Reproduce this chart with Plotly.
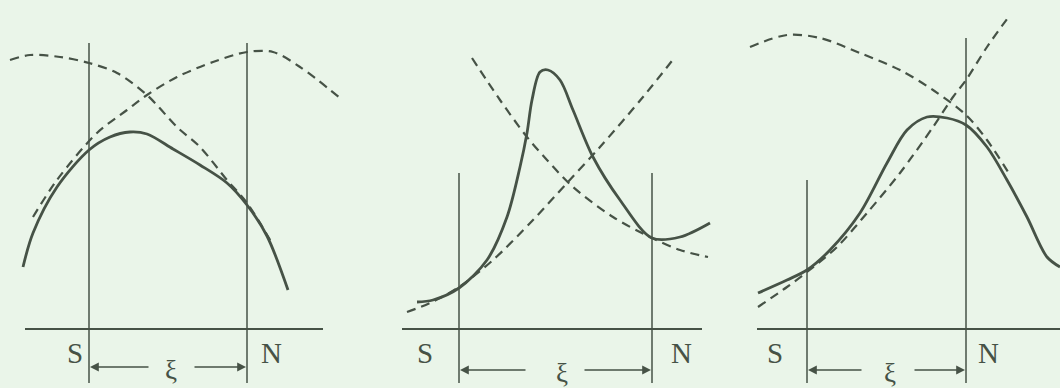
import plotly.graph_objects as go

# Drawing units: x 0..1060 left to right, y 0..388 top to bottom
INK = "#465246"
PAPER = "#eaf5e9"

baseline_y = 329
baseline_x0 = [25, 402, 757]
baseline_x1 = [323, 702, 1060]

s_x = [89, 459, 807]
n_x = [247, 652, 966]
s_top = [43, 173, 180]
n_top = [43, 173, 38]
post_bottom = 383

label_y = 353
s_label_x = [75, 425, 775]
n_label_x = [271, 681, 988]

arrow_y = [367, 370, 370]
xi_x = [171, 562, 890]
left_tail = [150, 527, 863]
right_tail = [193, 583, 913]

# Panel 1
p1_solid_x = [23, 33, 57, 89, 110, 130, 147, 173, 200, 227, 247, 267, 288]
p1_solid_y = [267, 233, 187, 150, 137, 132, 134, 149, 165, 183, 205, 236, 290]
p1_fall_x = [10, 30, 60, 89, 117, 147, 177, 200, 227, 247, 273]
p1_fall_y = [60, 55, 57, 63, 73, 95, 127, 147, 180, 203, 245]
p1_rise_x = [33, 57, 97, 127, 147, 177, 213, 247, 273, 300, 340]
p1_rise_y = [217, 180, 133, 110, 95, 77, 62, 52, 52, 67, 98]

# Panel 2
p2_solid_x = [417, 433, 459, 487, 507, 520, 527, 532, 540, 548, 560, 573, 593, 620, 652, 680, 710]
p2_solid_y = [302, 300, 288, 260, 217, 167, 133, 100, 72, 70, 80, 110, 157, 200, 238, 237, 223]
p2_fall_x = [472, 500, 527, 547, 573, 613, 652, 680, 708]
p2_fall_y = [58, 100, 137, 160, 187, 217, 238, 250, 257]
p2_rise_x = [407, 430, 459, 493, 533, 567, 600, 643, 675]
p2_rise_y = [312, 303, 287, 260, 220, 183, 147, 97, 57]

# Panel 3
p3_solid_x = [758, 787, 807, 830, 860, 887, 907, 927, 947, 966, 987, 1007, 1027, 1047, 1060]
p3_solid_y = [293, 280, 270, 250, 213, 163, 130, 117, 118, 125, 147, 180, 217, 257, 267]
p3_fall_x = [750, 787, 820, 860, 900, 933, 966, 987, 1010]
p3_fall_y = [47, 35, 38, 53, 70, 90, 115, 140, 175]
p3_rise_x = [758, 787, 807, 837, 867, 900, 933, 953, 966, 987, 1010]
p3_rise_y = [307, 287, 272, 247, 213, 173, 127, 97, 80, 47, 15]

fig = go.Figure()


def add_line(xs, ys, width, dash="solid", shape="spline"):
    fig.add_trace(go.Scatter(
        x=xs, y=ys, mode="lines",
        line=dict(color=INK, width=width, dash=dash, shape=shape, smoothing=0.9),
        hoverinfo="skip", showlegend=False,
    ))


for i in range(3):
    # axis line and the two posts
    add_line([baseline_x0[i], baseline_x1[i]], [baseline_y, baseline_y], 1.8, shape="linear")
    add_line([s_x[i], s_x[i]], [s_top[i], post_bottom], 1.5, shape="linear")
    add_line([n_x[i], n_x[i]], [n_top[i], post_bottom], 1.5, shape="linear")

for xs, ys in [(p1_fall_x, p1_fall_y), (p1_rise_x, p1_rise_y),
               (p2_fall_x, p2_fall_y), (p2_rise_x, p2_rise_y),
               (p3_fall_x, p3_fall_y), (p3_rise_x, p3_rise_y)]:
    add_line(xs, ys, 2.2, dash="9px,6px")

for xs, ys in [(p1_solid_x, p1_solid_y), (p2_solid_x, p2_solid_y), (p3_solid_x, p3_solid_y)]:
    add_line(xs, ys, 2.8)

annotations = []
label_font = dict(family="Liberation Serif, DejaVu Serif, serif", size=29, color=INK)
for i in range(3):
    annotations.append(dict(x=s_label_x[i], y=label_y, text="S", showarrow=False,
                            font=label_font, xref="x", yref="y"))
    annotations.append(dict(x=n_label_x[i], y=label_y, text="N", showarrow=False,
                            font=label_font, xref="x", yref="y"))
    annotations.append(dict(x=xi_x[i], y=arrow_y[i] + 3, text="ξ", showarrow=False,
                            font=dict(family="Liberation Serif, DejaVu Serif, serif", size=27, color=INK),
                            xref="x", yref="y"))
    # dimension arrows pointing out to the posts
    annotations.append(dict(x=s_x[i] + 1, y=arrow_y[i], ax=left_tail[i], ay=arrow_y[i],
                            xref="x", yref="y", axref="x", ayref="y", text="",
                            showarrow=True, arrowhead=2, arrowsize=1.1, arrowwidth=1.6,
                            arrowcolor=INK, standoff=0, startstandoff=0))
    annotations.append(dict(x=n_x[i] - 1, y=arrow_y[i], ax=right_tail[i], ay=arrow_y[i],
                            xref="x", yref="y", axref="x", ayref="y", text="",
                            showarrow=True, arrowhead=2, arrowsize=1.1, arrowwidth=1.6,
                            arrowcolor=INK, standoff=0, startstandoff=0))

fig.update_layout(
    width=1060, height=388,
    margin=dict(l=0, r=0, t=0, b=0),
    paper_bgcolor=PAPER, plot_bgcolor=PAPER,
    xaxis=dict(range=[0, 1060], visible=False, fixedrange=True),
    yaxis=dict(range=[388, 0], visible=False, fixedrange=True),
    annotations=annotations,
)

fig.write_html("out.html")
